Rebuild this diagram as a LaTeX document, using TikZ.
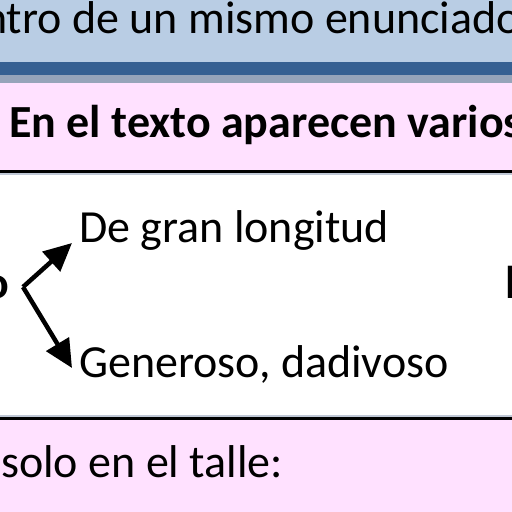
\documentclass[tikz,border=0pt]{standalone}
\usepackage{fontspec}
\setmainfont{Carlito}
\usetikzlibrary{arrows.meta}
\definecolor{titleblue}{RGB}{185,205,228}
\definecolor{barblue}{RGB}{54,96,146}
\definecolor{bargray}{RGB}{150,164,186}
\definecolor{rowpink}{RGB}{255,225,255}
\tikzset{
  txt/.style={inner sep=0pt, font=\fontsize{46}{50}\selectfont},
  btxt/.style={txt, font=\fontsize{46}{50}\selectfont\bfseries},
  arr/.style={line width=4.5pt, -{Triangle[length=28pt,width=26pt]}}
}
\begin{document}
\begin{tikzpicture}[x=1pt,y=-1pt]
\useasboundingbox (0,0) rectangle (512,512);
\clip (0,0) rectangle (512,512);
\fill[titleblue] (0,0) rectangle (512,62); % title
\fill[barblue] (0,62) rectangle (512,75);
\fill[bargray] (0,75) rectangle (512,83);
\fill[rowpink] (0,83) rectangle (512,170); % first row
\fill[black] (0,170) rectangle (512,173);
\fill[bargray!60] (0,173) rectangle (512,175);
\fill[bargray!60] (0,415) rectangle (512,417);
\fill[black] (0,417) rectangle (512,420);
\fill[rowpink] (0,420) rectangle (512,512); % last row
\node[txt, anchor=base west] (title) at (-17,33) {ntro de un mismo enunciado};
\node[btxt, anchor=base west] (varios) at (9,137) {En el texto aparecen varios};
\node[btxt, anchor=base east] (word) at (9,298) {o};
\node[btxt, anchor=base west] (other) at (505,298) {l};
\node[txt, anchor=base west] (longitud) at (79,242) {De gran longitud};
\node[txt, anchor=base west] (generoso) at (79,377) {Generoso, dadivoso};
\node[txt, anchor=base west] (talle) at (1,477) {solo en el talle:};
\coordinate (fork) at (23,287);
\coordinate (tipup) at (72,243);
\coordinate (tipdown) at (72,368);
\draw[arr] (fork) -- (tipup);
\draw[arr] (fork) -- (tipdown);
\end{tikzpicture}
\end{document}
